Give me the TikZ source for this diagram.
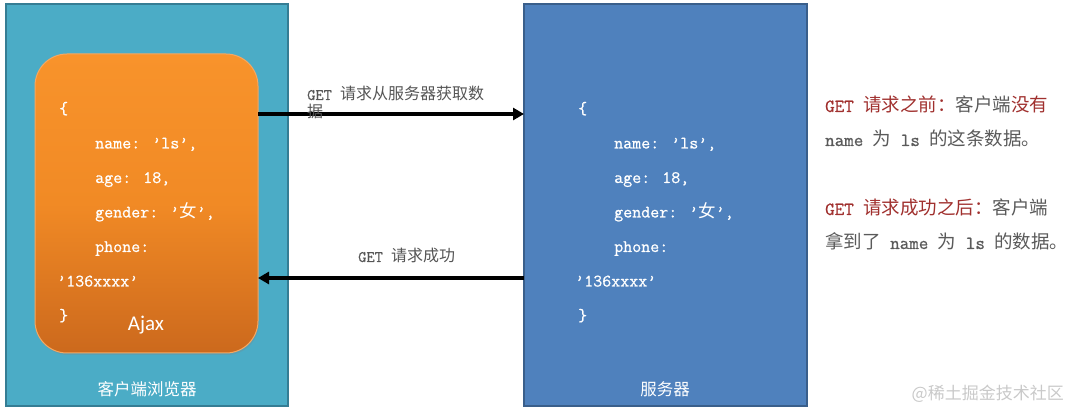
\documentclass[tikz,border=0pt]{standalone}
\usepackage{fontspec}
\usetikzlibrary{arrows.meta,shadows}
\newfontfamily\cjk{Noto Sans CJK SC}
\newfontfamily\mono{Latin Modern Mono}[FakeBold=0.7]
\newfontfamily\ajaxfont{Carlito}
\newcommand\zh[1]{{\cjk #1}}
\newcommand\jsonsize{\fontsize{17.5}{20}\selectfont\mono}
\newcommand\notesize{\fontsize{18.5}{21}\selectfont\mono}
\newcommand\lblsize{\fontsize{16}{19}\selectfont\mono}
\definecolor{tealbox}{HTML}{4BACC6}
\definecolor{tealedge}{HTML}{357D94}
\definecolor{bluebox}{HTML}{4F81BD}
\definecolor{blueedge}{HTML}{3A5F8B}
\definecolor{orgtop}{HTML}{F8932B}
\definecolor{orgmid}{HTML}{F18A25}
\definecolor{orgbot}{HTML}{CC691D}
\definecolor{orgedge}{HTML}{F5A862}
\definecolor{notered}{HTML}{A0302E}
\definecolor{notegrey}{HTML}{5A5A5A}
\definecolor{lblgrey}{HTML}{555555}
\definecolor{wmgrey}{HTML}{C9C9C9}
\begin{document}
\begin{tikzpicture}[x=1pt,y=-1pt,
  panel/.style={anchor=north west,inner sep=0pt,outer sep=0pt,line width=1.6pt},
  json/.style={anchor=base west,inner sep=0pt,text=white,font=\jsonsize},
  note/.style={anchor=base west,inner sep=0pt,font=\notesize},
  lbl/.style={anchor=base west,inner sep=0pt,text=lblgrey,font=\lblsize},
  captext/.style={anchor=base,inner sep=0pt,text=white,font=\fontsize{16.5}{19}\selectfont\cjk},
  arr/.style={line width=3.5pt,-{Triangle[length=11pt,width=12pt]}}]
\useasboundingbox (0,0) rectangle (1069,411);
% panels
\node[panel,draw=tealedge,fill=tealbox,minimum width=282pt,minimum height=402pt] (browser) at (6,4) {};
\node[panel,draw=blueedge,fill=bluebox,minimum width=283pt,minimum height=402pt] (server) at (524,4) {};
\node[panel,draw=orgedge,line width=1pt,rounded corners=32pt,minimum width=223pt,minimum height=299pt,
  top color=orgtop,bottom color=orgbot,middle color=orgmid,
  drop shadow={shadow xshift=1pt,shadow yshift=-2pt,opacity=0.25}] (ajax) at (35,54) {};
% captions
\node[captext] (bcap) at (147,396) {客户端浏览器};
\node[captext] (scap) at (665,396) {服务器};
\node[anchor=base,inner sep=0pt,text=white,font=\fontsize{21}{24}\selectfont\ajaxfont] (ajaxlbl) at (146,331) {Ajax};
% JSON in browser
\node[json] (b0) at (59,114) {\{};
\node[json] (b1) at (95,148.5) {name: ’ls’,};
\node[json] (b2) at (95,183) {age: 18,};
\node[json] (b3) at (95,217.5) {gender: ’\zh{女}’,};
\node[json] (b4) at (95,252) {phone:};
\node[json] (b5) at (57,286.5) {’136xxxx’};
\node[json] (b6) at (59,321) {\}};
% JSON in server
\node[json] (s0) at (578,114) {\{};
\node[json] (s1) at (614,148.5) {name: ’ls’,};
\node[json] (s2) at (614,183) {age: 18,};
\node[json] (s3) at (614,217.5) {gender: ’\zh{女}’,};
\node[json] (s4) at (614,252) {phone:};
\node[json] (s5) at (575,286.5) {’136xxxx’};
\node[json] (s6) at (578,321) {\}};
% arrows
\coordinate (r1) at (0,114);
\coordinate (r2) at (0,278);
\draw[arr] (ajax.east |- r1) -- (server.west |- r1);
\draw[arr] (server.west |- r2) -- (ajax.east |- r2);
\node[lbl] (l1a) at (307,100) {GET \zh{请求从服务器获取数}};
\node[lbl] (l1b) at (307,118) {\zh{据}};
\node[lbl] (l2) at (358,262) {GET \zh{请求成功}};
% notes
\node[note,text=notered] (n1) at (825,112) {GET \zh{请求之前：}\textcolor{notegrey}{\zh{客户端}}\zh{没有}};
\node[note,text=notegrey] (n2) at (825,146) {name \zh{为} ls \zh{的这条数据。}};
\node[note,text=notered] (n3) at (825,215) {GET \zh{请求成功之后：}\textcolor{notegrey}{\zh{客户端}}};
\node[note,text=notegrey] (n4) at (825,249) {\zh{拿到了} name \zh{为} ls \zh{的数据。}};
% watermark
\node[anchor=base east,inner sep=0pt,text=wmgrey,font=\fontsize{17}{20}\selectfont\cjk] (wm) at (1064,400) {@稀土掘金技术社区};
\end{tikzpicture}
\end{document}
